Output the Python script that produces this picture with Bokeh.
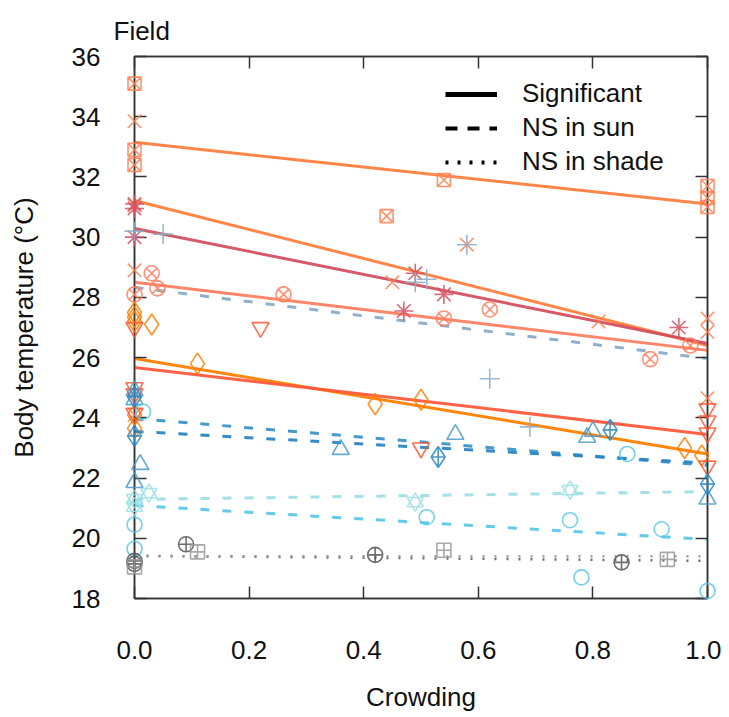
import math
from bokeh.plotting import figure
from bokeh.models import (Range1d, FixedTicker, PrintfTickFormatter, LinearAxis,
                          Legend, LegendItem)
from bokeh.embed import file_html
from bokeh.resources import INLINE

FONT = "Liberation Sans"
FS = "26px"

# ---------------- data ----------------
x_ticks = [0.0, 0.2, 0.4, 0.6, 0.8, 1.0]
y_ticks = [18, 20, 22, 24, 26, 28, 30, 32, 34, 36]
fit_x = [0.0, 1.0]

sqx_x = [0, 0, 0, 0.44, 0.54, 1, 1, 1]
sqx_y = [35.1, 32.9, 32.4, 30.7, 31.9, 31.7, 31.3, 31.0]

xm_x = [0, 0, 0, 0, 0.45, 0.58, 0.81, 1, 1, 1]
xm_y = [33.85, 31.05, 28.9, 24.1, 28.5, 29.75, 27.2, 27.3, 26.85, 24.65]

ast_x = [0, 0, 0, 0.49, 0.54, 0.47, 0.95]
ast_y = [31.1, 30.95, 30.0, 28.8, 28.1, 27.55, 27.0]

crs_x = [0, 0.05, 0.49, 0.51, 0.58, 0.62, 0.69]
crs_y = [30.2, 30.1, 28.5, 28.6, 29.75, 25.3, 23.7]

cx_x = [0, 0.03, 0.04, 0.26, 0.54, 0.62, 0.9, 0.97]
cx_y = [28.1, 28.8, 28.3, 28.1, 27.3, 27.6, 25.95, 26.4]

dia_x = [0, 0, 0, 0.03, 0.11, 0.42, 0.5, 0.96, 0.99, 0, 0]
dia_y = [27.5, 27.35, 27.2, 27.1, 25.8, 24.45, 24.6, 23.0, 22.75, 24.1, 23.65]

inv_x = [0, 0, 0, 0, 0.22, 0.5, 1, 1, 1, 1]
inv_y = [27.0, 25.0, 24.8, 24.15, 27.0, 23.0, 24.3, 23.9, 23.5, 22.4]

tri_x = [0, 0, 0.01, 0, 0.36, 0.56, 0.79, 0.8, 1.0]
tri_y = [24.9, 24.6, 22.45, 21.85, 22.95, 23.45, 23.35, 23.55, 21.3]

dcr_x = [0, 0, 0.53, 0.83, 1.0]
dcr_y = [24.7, 23.4, 22.7, 23.6, 21.8]

hex_x = [0, 0, 0.025, 0.49, 0.76]
hex_y = [21.3, 21.05, 21.5, 21.2, 21.6]

cir_x = [0, 0, 0.015, 0.51, 0.76, 0.78, 0.86, 0.92, 1.0]
cir_y = [20.45, 19.65, 24.2, 20.7, 20.6, 18.7, 22.8, 20.3, 18.25]

ccr_x = [0, 0, 0.09, 0.42, 0.85]
ccr_y = [19.25, 19.15, 19.8, 19.45, 19.2]

scr_x = [0, 0.11, 0.54, 0.93]
scr_y = [19.05, 19.55, 19.6, 19.3]

# fitted lines: start (crowding 0) and end (crowding 1)
fit_start = [33.15, 31.22, 30.29, 28.5, 28.33, 25.97, 25.67, 23.98, 23.55, 21.29, 21.09, 19.42, 19.40]
fit_end   = [31.10, 26.40, 26.47, 26.24, 25.97, 22.80, 23.45, 22.42, 22.50, 21.55, 19.96, 19.25, 19.40]
fit_style = ["solid", "solid", "solid", "solid", "dashed", "solid", "solid",
             "dashed", "dashed", "dashed", "dashed", "dotted", "dotted"]
fit_color = ["#FF7F3F", "#FF7F3F", "#D45060", "#FF7F60", "#8AABC6", "#FF8000", "#FF5A3C",
             "#3A95C8", "#2A85C2", "#9EDFE6", "#5BC8E8", "#666666", "#999999"]

legend_labels = ["Significant", "NS in sun", "NS in shade"]

# ---------------- figure ----------------
p = figure(width=721, height=717, output_backend="svg", toolbar_location=None,
           x_range=Range1d(0, 1), y_range=Range1d(18, 36),
           min_border_left=134, min_border_right=14, min_border_top=56, min_border_bottom=119)
p.background_fill_color = "white"
p.border_fill_color = "white"
p.outline_line_color = "#333333"
p.outline_line_width = 1.5
p.xgrid.visible = False
p.ygrid.visible = False

p.title.text = "Field"
p.title.text_font = FONT
p.title.text_font_size = FS
p.title.text_font_style = "normal"
p.title.text_color = "#111111"
p.title.align = "left"
p.title.offset = -21
p.title.standoff = 22

def style_axis(ax, ticks, show_labels):
    ax.ticker = FixedTicker(ticks=ticks)
    ax.major_tick_in = 12
    ax.major_tick_out = 0
    ax.minor_tick_line_color = None
    ax.major_tick_line_color = "#333333"
    ax.major_tick_line_width = 1.5
    ax.axis_line_color = "#333333"
    ax.axis_line_width = 1.5
    if show_labels:
        ax.major_label_text_font = FONT
        ax.major_label_text_font_size = FS
        ax.major_label_text_color = "#111111"
        ax.axis_label_text_font = FONT
        ax.axis_label_text_font_size = FS
        ax.axis_label_text_font_style = "normal"
        ax.axis_label_text_color = "#111111"
    else:
        ax.major_label_overrides = {t: "" for t in ticks}
        ax.major_label_standoff = 0

xa = p.xaxis[0]
style_axis(xa, x_ticks, True)
xa.formatter = PrintfTickFormatter(format="%.1f")
xa.major_label_standoff = 42
xa.axis_label = "Crowding"
xa.axis_label_standoff = 20

ya = p.yaxis[0]
style_axis(ya, y_ticks, True)
ya.major_label_standoff = 34
ya.axis_label = "Body temperature (°C)"
ya.axis_label_standoff = 30

top = LinearAxis()
style_axis(top, x_ticks, False)
p.add_layout(top, "above")
right = LinearAxis()
style_axis(right, y_ticks, False)
p.add_layout(right, "right")

dash_map = {"solid": "solid", "dashed": "9 13", "dotted": "2 10"}
for y0, y1, st, col in zip(fit_start, fit_end, fit_style, fit_color):
    lw = 2.5 if st == "dotted" else 3
    p.line(x=fit_x, y=[y0, y1], line_color=col, line_width=lw,
           line_dash=dash_map[st], line_alpha=0.95)

def pts(xs, ys, marker, color, size):
    r = p.scatter(x=xs, y=ys, marker=marker, size=size, fill_color=None,
                  line_color=color, line_width=1.6, line_alpha=0.85)
    r.level = "annotation"
    return r

pts(sqx_x, sqx_y, "square_x", "#FF7F50", 13)
pts(xm_x, xm_y, "x", "#FF7F50", 19)
pts(ast_x, ast_y, "asterisk", "#D45060", 19)
pts(crs_x, crs_y, "cross", "#8AABC6", 20)
pts(cx_x, cx_y, "circle_x", "#FF7F60", 15)
pts(dia_x, dia_y, "diamond", "#FF8000", 21)
pts(inv_x, inv_y, "inverted_triangle", "#FF5533", 17)
pts(tri_x, tri_y, "triangle", "#4A9AC8", 17)
pts(dcr_x, dcr_y, "diamond_cross", "#2A85C2", 21)
pts(hex_x, hex_y, "triangle", "#9EDFE6", 16)
pts(hex_x, hex_y, "inverted_triangle", "#9EDFE6", 16)
pts(cir_x, cir_y, "circle", "#5BC8E8", 15)
pts(ccr_x, ccr_y, "circle_cross", "#555555", 15)
pts(scr_x, scr_y, "square_cross", "#999999", 14)

# legend (style keys) - renderers hold no visible data
nan = float("nan")
l1 = p.line(x=[nan, nan], y=[nan, nan], line_color="black", line_width=5)
l2 = p.line(x=[nan, nan], y=[nan, nan], line_color="black", line_width=4, line_dash="12 10")
l3 = p.line(x=[nan, nan], y=[nan, nan], line_color="black", line_width=4, line_dash="3 9")
leg = Legend(items=[LegendItem(label=legend_labels[0], renderers=[l1]),
                    LegendItem(label=legend_labels[1], renderers=[l2]),
                    LegendItem(label=legend_labels[2], renderers=[l3])],
             location=(311, 421), orientation="vertical")
leg.background_fill_alpha = 0
leg.border_line_color = None
leg.padding = 0
leg.margin = 0
leg.spacing = 3
leg.glyph_width = 52
leg.glyph_height = 30
leg.label_height = 30
leg.label_standoff = 25
leg.label_text_font = FONT
leg.label_text_font_size = FS
leg.label_text_color = "#111111"
p.add_layout(leg)

open("out.html", "w").write(file_html(p, INLINE))
